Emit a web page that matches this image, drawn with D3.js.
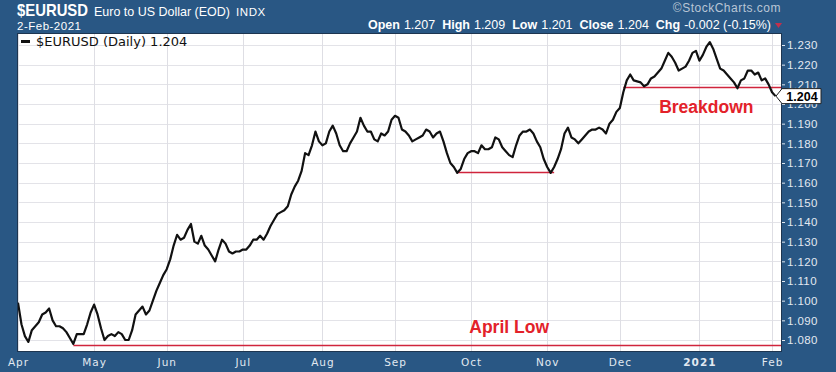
<!DOCTYPE html>
<html>
<head>
<meta charset="utf-8">
<script src="https://cdn.jsdelivr.net/npm/d3@7"></script>
<style>
  body { margin: 0; background: #295784; }
  svg { display: block; }
</style>
</head>
<body>
<svg id="chart" width="836" height="372"></svg>
<script>
// daily closes, 1-Apr-2020 .. 2-Feb-2021 (one value per weekday)
const closes = [
  1.099,1.088,1.082,1.079,1.085,1.087,1.089,1.093,1.094,1.096,
  1.090,1.087,1.087,1.086,1.084,1.081,1.078,1.083,1.083,1.083,
  1.088,1.094,1.098,1.093,1.086,1.080,1.082,1.083,1.082,1.084,
  1.083,1.080,1.080,1.085,1.093,1.095,1.097,1.093,1.095,1.100,
  1.105,1.109,1.113,1.116,1.121,1.128,1.1335,1.131,1.132,1.136,
  1.139,1.130,1.129,1.133,1.128,1.126,1.123,1.120,1.126,1.131,
  1.129,1.125,1.124,1.125,1.125,1.126,1.126,1.128,1.131,1.131,
  1.133,1.131,1.134,1.138,1.141,1.144,1.145,1.146,1.148,1.154,
  1.158,1.161,1.166,1.175,1.174,1.179,1.186,1.181,1.179,1.180,
  1.186,1.189,1.185,1.179,1.176,1.176,1.180,1.183,1.186,1.193,
  1.189,1.186,1.186,1.182,1.181,1.185,1.184,1.186,1.192,1.194,
  1.193,1.187,1.186,1.184,1.181,1.182,1.183,1.184,1.187,1.186,
  1.183,1.185,1.186,1.181,1.175,1.170,1.168,1.165,1.167,1.172,
  1.175,1.176,1.176,1.175,1.179,1.177,1.177,1.178,1.183,1.182,
  1.178,1.176,1.174,1.173,1.179,1.184,1.186,1.186,1.187,1.185,
  1.181,1.178,1.172,1.168,1.165,1.168,1.172,1.177,1.185,1.188,
  1.183,1.182,1.180,1.182,1.184,1.186,1.187,1.187,1.188,1.187,
  1.185,1.190,1.192,1.196,1.198,1.206,1.212,1.215,1.212,1.2115,
  1.211,1.209,1.210,1.213,1.214,1.216,1.218,1.222,1.226,1.224,
  1.221,1.217,1.218,1.219,1.222,1.226,1.227,1.222,1.225,1.229,
  1.2315,1.228,1.223,1.218,1.217,1.215,1.213,1.211,1.208,1.212,
  1.213,1.217,1.217,1.215,1.216,1.212,1.213,1.210,1.206,1.204
];

const monthLabels = ["Apr","May","Jun","Jul","Aug","Sep","Oct","Nov","Dec","2021","Feb"];
const yTicks = [1.08,1.09,1.10,1.11,1.12,1.13,1.14,1.15,1.16,1.17,1.18,1.19,1.20,1.21,1.22,1.23];

// red support lines : start day, end day (null = right edge), level
const levelStart = [16, 127, 175];
const levelEnd   = [null, 155, null];
const levelValue = [1.0776, 1.1652, 1.2085];

const notes = [
  {text: "Breakdown", day: 199, value: 1.1955},
  {text: "April Low", day: 142, value: 1.0836}
];

const quote = [["Open","1.207"],["High","1.209"],["Low","1.201"],["Close","1.204"],["Chg","-0.002 (-0.15%)"]];

// trading days (weekdays)
let dates = [];
for (let d = new Date(2020, 3, 1); d <= new Date(2021, 1, 2); d.setDate(d.getDate() + 1)) {
  if (d.getDay() !== 0 && d.getDay() !== 6) dates.push(new Date(d));
}
let monthIdx = [];
dates.forEach(function(d, i) {
  if (i === 0 || d.getMonth() !== dates[i - 1].getMonth()) monthIdx.push(i);
});

let plot = {left: 17, right: 782, top: 33, bottom: 352};

let svg = d3.select("#chart");

let x = d3.scaleLinear().domain([0, closes.length - 1]).range([18, 775.5]);
let y = d3.scaleLinear().domain([1.0739, 1.2361]).range([plot.bottom, plot.top]);

svg.append("rect").attr("width", 836).attr("height", 372).attr("fill", "#295784");
svg.append("rect")
  .attr("x", plot.left).attr("y", plot.top)
  .attr("width", plot.right - plot.left).attr("height", plot.bottom - plot.top)
  .attr("fill", "#fff");

// grid
svg.append("g").selectAll("line").data(yTicks).enter().append("line")
  .attr("x1", plot.left).attr("x2", plot.right)
  .attr("y1", d => Math.round(y(d)) + 0.5).attr("y2", d => Math.round(y(d)) + 0.5)
  .attr("stroke", "#e3e3e8");
svg.append("g").selectAll("line").data(monthIdx).enter().append("line")
  .attr("y1", plot.top).attr("y2", plot.bottom)
  .attr("x1", d => Math.round(x(d)) + 0.5).attr("x2", d => Math.round(x(d)) + 0.5)
  .attr("stroke", "#dedee4");

// support lines
svg.append("g").selectAll("line").data(levelValue).enter().append("line")
  .attr("x1", (d, i) => x(levelStart[i]))
  .attr("x2", (d, i) => levelEnd[i] === null ? plot.right : x(levelEnd[i]))
  .attr("y1", d => Math.round(y(d)) + 0.5).attr("y2", d => Math.round(y(d)) + 0.5)
  .attr("stroke", "#d0243c").attr("stroke-width", 1.3);

// price line
let line = d3.line().x((d, i) => x(i)).y(d => y(d));
svg.append("path").datum(closes)
  .attr("d", line)
  .attr("fill", "none").attr("stroke", "#111").attr("stroke-width", 2.2)
  .attr("stroke-linejoin", "round");

// annotations
svg.append("g").selectAll("text").data(notes).enter().append("text")
  .attr("x", d => x(d.day)).attr("y", d => y(d.value))
  .attr("text-anchor", "middle")
  .attr("font-family", "Liberation Sans, Arial, sans-serif")
  .attr("font-weight", "bold").attr("font-size", 17.5)
  .attr("fill", "#e3222a")
  .text(d => d.text);

// plot border
svg.append("rect")
  .attr("x", plot.left + 0.5).attr("y", plot.top + 0.5)
  .attr("width", plot.right - plot.left - 1).attr("height", plot.bottom - plot.top - 1)
  .attr("fill", "none").attr("stroke", "#1d3550");

// legend
svg.append("line").attr("x1", 21).attr("x2", 30).attr("y1", 41.5).attr("y2", 41.5)
  .attr("stroke", "#111").attr("stroke-width", 3);
svg.append("text").attr("x", 36).attr("y", 45.5)
  .attr("font-family", "DejaVu Sans, Verdana, sans-serif").attr("font-size", 13)
  .attr("fill", "#111")
  .text("$EURUSD (Daily) " + d3.format(".3f")(closes[closes.length - 1]));

// y axis (right)
let yAxis = svg.append("g")
  .attr("transform", `translate(${plot.right},0)`)
  .call(d3.axisRight(y).tickValues(yTicks).tickSize(3).tickPadding(2).tickFormat(d3.format(".3f")));
yAxis.select(".domain").remove();
yAxis.selectAll("line").attr("stroke", "#dfe7f0");
yAxis.selectAll("text")
  .attr("fill", "#e2e9f1")
  .attr("font-family", "Liberation Sans, Arial, sans-serif")
  .attr("font-size", 11.5)
  .attr("letter-spacing", 0.4);

// last price tag
let last = closes[closes.length - 1];
let ty = y(last);
svg.append("path")
  .attr("d", `M776,${ty} L782,${ty - 7.5} L821,${ty - 7.5} L821,${ty + 7.5} L782,${ty + 7.5} Z`)
  .attr("fill", "#fff").attr("stroke", "#222");
svg.append("text").attr("x", 802).attr("y", ty + 4.5)
  .attr("text-anchor", "middle")
  .attr("font-family", "Liberation Sans, Arial, sans-serif")
  .attr("font-weight", "bold").attr("font-size", 12.5)
  .attr("fill", "#000")
  .text(d3.format(".3f")(last));

// x axis
let xAxis = svg.append("g")
  .attr("transform", `translate(0,${plot.bottom})`)
  .call(d3.axisBottom(x).tickValues(monthIdx).tickSize(0).tickPadding(7)
    .tickFormat((d, i) => monthLabels[i]));
xAxis.select(".domain").remove();
xAxis.selectAll("text")
  .attr("fill", "#e2e9f1")
  .attr("font-family", "DejaVu Sans, Verdana, sans-serif")
  .attr("font-size", 10.5)
  .attr("letter-spacing", 1)
  .attr("font-weight", (d, i) => monthLabels[i] === "2021" ? "bold" : "normal");

// header
svg.append("text").attr("x", 17).attr("y", 16).attr("fill", "#fff")
  .attr("font-family", "Liberation Sans, Arial, sans-serif")
  .attr("font-weight", "bold").attr("font-size", 17)
  .attr("textLength", 71).attr("lengthAdjust", "spacingAndGlyphs")
  .text("$EURUSD");
svg.append("text").attr("x", 94).attr("y", 16).attr("fill", "#fff")
  .attr("font-family", "Liberation Sans, Arial, sans-serif").attr("font-size", 13)
  .attr("textLength", 136).attr("lengthAdjust", "spacingAndGlyphs")
  .text("Euro to US Dollar (EOD)");
svg.append("text").attr("x", 236).attr("y", 16).attr("fill", "#fff")
  .attr("font-family", "Liberation Sans, Arial, sans-serif").attr("font-size", 11.5)
  .attr("letter-spacing", 0.6)
  .text("INDX");

svg.append("text").attr("x", 17).attr("y", 30).attr("fill", "#fff")
  .attr("font-family", "Liberation Sans, Arial, sans-serif").attr("font-size", 11.5)
  .attr("letter-spacing", 0.5)
  .text("2-Feb-2021");

svg.append("text").attr("x", 781).attr("y", 12).attr("text-anchor", "end")
  .attr("fill", "#b9c6d6")
  .attr("font-family", "Liberation Sans, Arial, sans-serif").attr("font-size", 12)
  .attr("letter-spacing", 0.5)
  .text("©StockCharts.com");

let q = svg.append("text").attr("x", 771).attr("y", 28.5).attr("text-anchor", "end")
  .attr("fill", "#fff").attr("font-family", "Liberation Sans, Arial, sans-serif").attr("font-size", 12.5);
quote.forEach(function(p, i) {
  q.append("tspan").attr("font-weight", "bold").attr("dx", i === 0 ? 0 : 7).text(p[0]);
  q.append("tspan").attr("dx", 4).text(p[1]);
});
svg.append("path").attr("d", "M775,23 L782,23 L778.5,28 Z").attr("fill", "#c2304c");
</script>
</body>
</html>
